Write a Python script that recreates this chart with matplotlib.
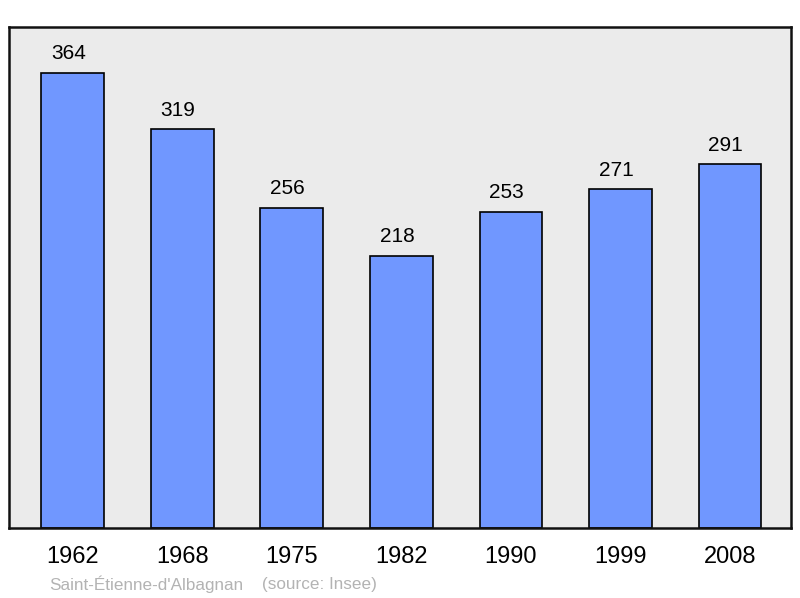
import numpy as np
from matplotlib import pyplot as plt

years = ['1962', '1968', '1975', '1982', '1990', '1999', '2008']
population = [364, 319, 256, 218, 253, 271, 291]
commune = "Saint-Étienne-d'Albagnan"
source = "(source: Insee)"

plt.rcParams['font.family'] = ['Liberation Sans', 'DejaVu Sans']

fig = plt.figure(figsize=(8, 5.98), dpi=100)
ax = fig.add_axes([9 / 800, 70 / 598, 782 / 800, 501 / 598])
ax.set_facecolor('#ebebeb')

x = np.arange(len(years))
bars = ax.bar(x, population, width=0.575, color='#7097ff',
              edgecolor='black', linewidth=1.2, zorder=2)

# valeurs au-dessus des barres
for xi, v in zip(x, population):
    ax.annotate(str(v), (xi, v), xytext=(-3.3, 7), textcoords='offset points',
                ha='center', va='bottom', fontsize=15)

ax.set_xlim(-0.584, 6.557)
ax.set_ylim(0, 400.8)
ax.set_yticks([])
ax.set_xticks(x)
ax.set_xticklabels(years, fontsize=17)
ax.tick_params(axis='x', length=0, pad=13)
for s in ax.spines.values():
    s.set_linewidth(1.8)
    s.set_color('#111111')

fig.text(49 / 800, 1 - 584 / 598, commune, color='#b3b3b3', fontsize=12.3,
         ha='left', va='center')
fig.text(262 / 800, 1 - 584 / 598, source, color='#b3b3b3', fontsize=12.3,
         ha='left', va='center')

fig.savefig('out.png', dpi=100)
